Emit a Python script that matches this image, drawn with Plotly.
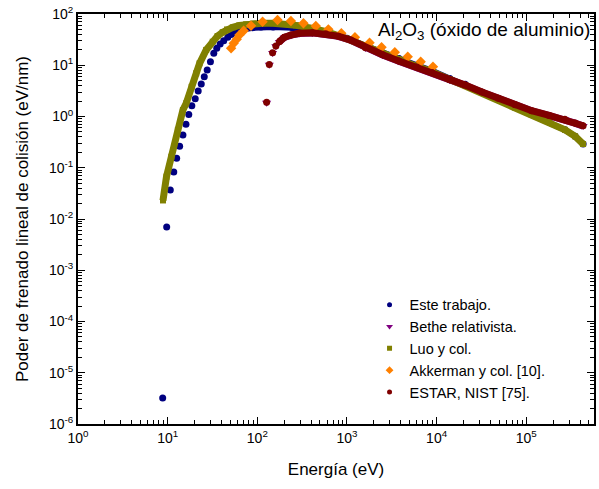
import plotly.graph_objects as go

# ---------------- data ----------------
este_E = [8.8, 9.75, 10.7, 11.7, 12.6, 13.6, 14.8, 16.0, 17.2, 18.6, 20.3, 21.9, 23.7, 25.6,
          27.6, 30.0, 32.7, 35.3, 38.5, 42.2, 46.8, 51, 58, 68.7, 88.7, 110, 150, 247, 488,
          700, 1000, 1600, 2500, 3800, 6000, 8900, 14000, 20800, 32000, 48800, 75000,
          115000, 180000, 270000, 350000, 430000]
este_S = [3.2e-6, 0.0070, 0.037, 0.083, 0.153, 0.262, 0.436, 0.705, 1.10, 1.63, 2.22, 3.15,
          4.31, 5.98, 8.08, 11.7, 17.1, 21.4, 26.0, 30.1, 35.1, 40, 45, 50, 54, 56, 56, 54,
          48, 40, 33.5, 24, 17.5, 13.5, 10, 7.8, 5.5, 4.25, 2.95, 2.2, 1.5, 1.08, 0.78,
          0.55, 0.41, 0.29]

bethe_E = [127, 136, 148, 161, 176, 200, 237, 293, 411, 580, 800, 1100, 1611, 2500, 3784,
           6000, 8870, 14000, 20800, 32000, 48800, 75000, 114600, 180000, 269000, 350000,
           430000]
bethe_S = [1.85, 10.2, 17.3, 23.5, 28.5, 34.8, 38.6, 41.6, 42.8, 40.6, 36.6, 30.7, 21.8,
           15.8, 12.0, 9.1, 7.1, 5.15, 4.05, 2.97, 2.25, 1.68, 1.29, 1.04, 0.87, 0.74, 0.65]

luo_E = [8.87, 9.7, 11.0, 13.0, 14.8, 16.1, 18.5, 20.8, 22.7, 26.9, 31.8, 36, 41.1, 46,
         53.2, 63, 75, 90, 115, 150, 200, 270, 400, 600, 1000, 1600, 2500, 3800, 6000,
         8900, 14000, 20800, 32000, 48800, 75000, 115000, 180000, 270000, 350000, 430000]
luo_S = [0.023, 0.067, 0.164, 0.55, 1.34, 1.81, 3.8, 6.97, 10.9, 19.9, 28.8, 37, 44, 50,
         55, 60, 63, 65, 66, 66, 64, 60, 53, 45, 33, 23.5, 17, 13.1, 9.5, 7.5, 5.3, 4.1,
         2.9, 2.16, 1.5, 1.07, 0.78, 0.55, 0.41, 0.29]

akk_E = [51.0, 54.5, 58.9, 63.1, 70.4, 85.1, 114.5, 168, 237, 327, 449, 620, 865, 1227,
         1786, 2430, 3415, 4760, 6640, 9100]
akk_S = [21.4, 26.8, 32.1, 38.9, 47.2, 59.1, 70.8, 76.4, 73.0, 65.9, 58.3, 50.2, 42.0,
         35.1, 27.5, 22.4, 17.9, 14.7, 11.7, 9.4]

estar_E = [127, 136, 148, 161, 176, 200, 237, 293, 411, 580, 800, 1100, 1611, 2500, 3784,
           6000, 8870, 14000, 20800, 32000, 48800, 75000, 114600, 180000, 269000, 350000,
           430000]
estar_S = [1.9, 10.4, 17.6, 23.8, 28.8, 35.1, 38.9, 42.0, 43.2, 41, 37, 31, 22, 16, 12.1,
           9.2, 7.2, 5.2, 4.1, 3.0, 2.27, 1.7, 1.3, 1.05, 0.88, 0.75, 0.66]

names = ["Este trabajo.", "Bethe relativista.", "Luo y col.", "Akkerman y col. [10].",
         "ESTAR, NIST [75]."]

x_tickvals = [1, 10, 100, 1000, 10000, 100000]
x_ticktext = ["10<sup>0</sup>", "10<sup>1</sup>", "10<sup>2</sup>", "10<sup>3</sup>",
              "10<sup>4</sup>", "10<sup>5</sup>"]
y_tickvals = [1e-6, 1e-5, 1e-4, 1e-3, 1e-2, 1e-1, 1, 10, 100]
y_ticktext = ["10<sup>-6</sup>", "10<sup>-5</sup>", "10<sup>-4</sup>", "10<sup>-3</sup>",
              "10<sup>-2</sup>", "10<sup>-1</sup>", "10<sup>0</sup>", "10<sup>1</sup>",
              "10<sup>2</sup>"]

NAVY = "#000080"
PURPLE = "#800080"
OLIVE = "#808000"
ORANGE = "#FF8000"
MAROON = "#800000"

fig = go.Figure()

# continuous bands (dense data appear as thick lines)
fig.add_trace(go.Scatter(x=este_E[21:], y=este_S[21:], mode="lines",
                         line=dict(color=NAVY, width=6), showlegend=False, hoverinfo="skip"))
fig.add_trace(go.Scatter(x=este_E, y=este_S, mode="markers", name=names[0], showlegend=False,
                         marker=dict(symbol="circle", size=7, color=NAVY)))
fig.add_trace(go.Scatter(x=bethe_E[4:], y=bethe_S[4:], mode="lines",
                         line=dict(color=PURPLE, width=7), showlegend=False, hoverinfo="skip"))
fig.add_trace(go.Scatter(x=bethe_E, y=bethe_S, mode="markers", name=names[1], showlegend=False,
                         marker=dict(symbol="triangle-down", size=8, color=PURPLE)))
fig.add_trace(go.Scatter(x=luo_E, y=luo_S, mode="lines",
                         line=dict(color=OLIVE, width=7), showlegend=False, hoverinfo="skip"))
fig.add_trace(go.Scatter(x=luo_E, y=luo_S, mode="markers", name=names[2], showlegend=False,
                         marker=dict(symbol="square", size=6, color=OLIVE)))
fig.add_trace(go.Scatter(x=akk_E, y=akk_S, mode="markers", name=names[3], showlegend=False,
                         marker=dict(symbol="diamond", size=8, color=ORANGE)))
fig.add_trace(go.Scatter(x=estar_E[4:], y=estar_S[4:], mode="lines",
                         line=dict(color=MAROON, width=7), showlegend=False, hoverinfo="skip"))
fig.add_trace(go.Scatter(x=estar_E, y=estar_S, mode="markers", name=names[4], showlegend=False,
                         marker=dict(symbol="circle", size=7, color=MAROON)))

# legend entries (small symbols, as in the reference legend)
legend_styles = [("circle", NAVY, 5), ("triangle-down", PURPLE, 6), ("square", OLIVE, 5),
                 ("diamond", ORANGE, 6), ("circle", MAROON, 5)]
for nm, (sym, col, sz) in zip(names, legend_styles):
    fig.add_trace(go.Scatter(x=[None], y=[None], mode="markers", name=nm,
                             marker=dict(symbol=sym, size=sz, color=col)))

FONT = "Liberation Sans, Arial, sans-serif"

minor_x = [k * 10 ** n for n in range(0, 6) for k in range(2, 10)]
minor_y = [k * 10.0 ** n for n in range(-6, 2) for k in range(2, 10)]

axis_common = dict(showline=True, linecolor="black", linewidth=2, mirror="allticks",
                   ticks="inside", ticklen=7, tickwidth=1.2, tickcolor="black",
                   showgrid=False, zeroline=False, tickfont=dict(size=14, color="black"))

fig.update_xaxes(type="log", range=[0, 5.755], tickmode="array", tickvals=x_tickvals,
                 ticktext=x_ticktext,
                 minor=dict(ticks="inside", ticklen=4, tickwidth=1, tickcolor="black",
                            tickmode="array", tickvals=minor_x, showgrid=False),
                 title=dict(text="Energía (eV)", font=dict(size=17, color="black"), standoff=18),
                 **axis_common)
fig.update_yaxes(type="log", range=[-6, 2], tickmode="array", tickvals=y_tickvals,
                 ticktext=y_ticktext,
                 minor=dict(ticks="inside", ticklen=4, tickwidth=1, tickcolor="black",
                            tickmode="array", tickvals=minor_y, showgrid=False),
                 title=dict(text="Poder de frenado lineal de colisión (eV/nm)",
                            font=dict(size=17, color="black"), standoff=16),
                 **axis_common)

fig.add_annotation(text="Al<sub>2</sub>O<sub>3</sub> (óxido de aluminio)",
                   xref="paper", yref="paper", x=0.997, y=0.958, xanchor="right",
                   yanchor="middle", showarrow=False, font=dict(size=19, color="black"))

fig.update_layout(
    width=599, height=489,
    margin=dict(l=78, r=3, t=14, b=65),
    paper_bgcolor="white", plot_bgcolor="white",
    font=dict(family=FONT, color="black"),
    legend=dict(x=0.565, y=0.33, xanchor="left", yanchor="top",
                bgcolor="rgba(0,0,0,0)", borderwidth=0,
                font=dict(size=14.5, color="black"), itemsizing="trace"),
)

fig.write_html("out.html", config={"displayModeBar": False},
               post_script="document.body.style.margin='0';document.body.style.overflow='hidden';")
